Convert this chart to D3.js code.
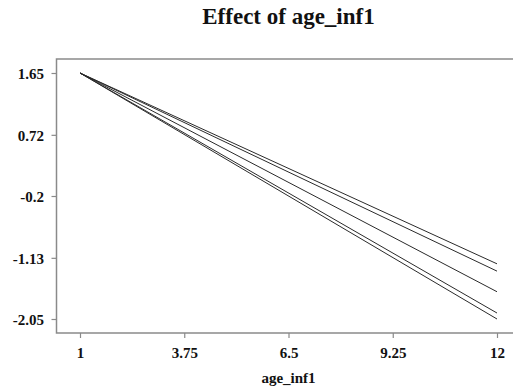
<!DOCTYPE html>
<html><head><meta charset="utf-8">
<script src="https://cdn.jsdelivr.net/npm/d3@7"></script>
<style>body{margin:0;background:#fff}svg{display:block}svg text{font-family:"Liberation Serif","Times New Roman",serif !important;font-weight:bold;fill:#111}</style>
</head><body><svg id="c" width="513" height="392"></svg>
<script>
const xValues = [1, 12];
const seriesA = [1.65, -1.22];
const seriesB = [1.65, -1.33];
const seriesC = [1.65, -1.64];
const seriesD = [1.65, -1.96];
const seriesE = [1.65, -2.05];
const xTicks = [1, 3.75, 6.5, 9.25, 12];
const yTicks = [1.65, 0.72, -0.2, -1.13, -2.05];
const yTickLabels = ["1.65", "0.72", "-0.2", "-1.13", "-2.05"];

const svg = d3.select("#c");
const x = d3.scaleLinear().domain([1, 12]).range([80, 497]);
const y = d3.scaleLinear().domain([-2.05, 1.65]).range([319, 73]);
const frameL = 56.5, frameT = 59, frameB = 333, frameR = 513;

// frame
svg.append("path").attr("d", `M${frameR},${frameT}H${frameL}V${frameB}H${frameR}`)
  .attr("fill", "none").attr("stroke", "#8a8a8a").attr("stroke-width", 1.5);

// y axis
const yAxis = d3.axisLeft(y).tickValues(yTicks).tickSize(5).tickPadding(7.5)
  .tickFormat((d, i) => yTickLabels[i]);
const gy = svg.append("g").attr("transform", `translate(${frameL},0)`).call(yAxis)
  .attr("font-family", '"Liberation Serif",serif').attr("font-size", 15);
gy.select(".domain").remove();
gy.selectAll(".tick line").attr("stroke", "#8a8a8a").attr("stroke-width", 1.2);
gy.selectAll(".tick text").attr("fill", "#111").attr("dy", "0.35em");

// x axis
const xAxis = d3.axisBottom(x).tickValues(xTicks).tickSize(5).tickPadding(9).tickFormat(d => String(d));
const gx = svg.append("g").attr("transform", `translate(0,${frameB})`).call(xAxis)
  .attr("font-family", '"Liberation Serif",serif').attr("font-size", 15);
gx.select(".domain").remove();
gx.selectAll(".tick line").attr("stroke", "#8a8a8a").attr("stroke-width", 1.2);
gx.selectAll(".tick text").attr("fill", "#111");

// lines
const series = [seriesA, seriesB, seriesC, seriesD, seriesE];
const line = d3.line().x((d, i) => x(xValues[i])).y(d => y(d));
svg.append("g").selectAll("path").data(series).join("path")
  .attr("d", line).attr("fill", "none").attr("stroke", "#2a2a2a").attr("stroke-width", 1);

// title
svg.append("text").attr("x", 288.5).attr("y", 24).attr("text-anchor", "middle")
  .attr("font-size", 23).text("Effect of age_inf1");
// x label
svg.append("text").attr("x", 288.5).attr("y", 383).attr("text-anchor", "middle")
  .attr("font-size", 15).text("age_inf1");
</script></body></html>
